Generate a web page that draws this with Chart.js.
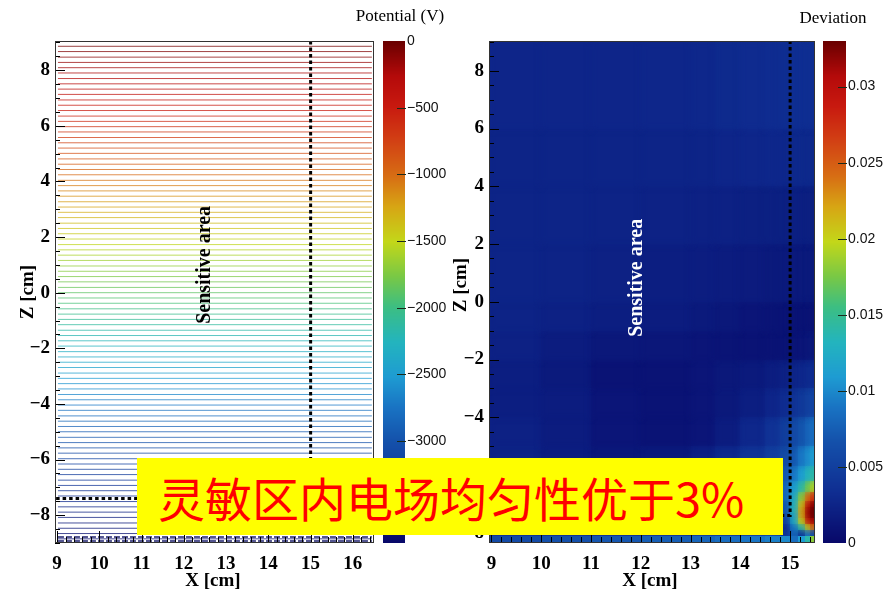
<!DOCTYPE html>
<html>
<head>
<meta charset="utf-8">
<script src="https://cdn.jsdelivr.net/npm/chart.js"></script>
<style>
  html, body { margin: 0; padding: 0; background: #fff; }
  #wrap { position: relative; width: 884px; height: 593px; overflow: hidden; }
  #wrap canvas { position: absolute; left: 0; top: 0; }
  #banner {
    position: absolute; left: 137px; top: 458px; width: 646px; height: 77px;
    box-sizing: border-box; padding-left: 21px;
    background: #ffff00; color: #ff0000;
    font-family: "Noto Sans CJK SC", sans-serif; font-size: 47px; line-height: 77px;
    white-space: nowrap;
  }
</style>
</head>
<body>
<div id="wrap">
  <canvas id="potentialChart" width="884" height="593"></canvas>
  <canvas id="potentialBar" width="884" height="593"></canvas>
  <canvas id="deviationChart" width="884" height="593"></canvas>
  <canvas id="deviationBar" width="884" height="593"></canvas>
  <div id="banner">灵敏区内电场均匀性优于3%</div>
</div>
<script>
// tick labels
const xTicksLeft = [9, 10, 11, 12, 13, 14, 15, 16];
const xTicksRight = [9, 10, 11, 12, 13, 14, 15];
const zTicks = [-8, -6, -4, -2, 0, 2, 4, 6, 8];
const potentialTicks = [0, -500, -1000, -1500, -2000, -2500, -3000];
const deviationTicks = [0, 0.005, 0.01, 0.015, 0.02, 0.025, 0.03];

// equipotential lines (V) and their height (cm)
const contourLevels = [
  -40, -80, -120, -160, -200, -240, -280, -320, -360, -400,
  -440, -480, -520, -560, -600, -640, -680, -720, -760, -800,
  -840, -880, -920, -960, -1000, -1040, -1080, -1120, -1160, -1200,
  -1240, -1280, -1320, -1360, -1400, -1440, -1480, -1520, -1560, -1600,
  -1640, -1680, -1720, -1760, -1800, -1840, -1880, -1920, -1960, -2000,
  -2040, -2080, -2120, -2160, -2200, -2240, -2280, -2320, -2360, -2400,
  -2440, -2480, -2520, -2560, -2600, -2640, -2680, -2720, -2760, -2800,
  -2840, -2880, -2920, -2960, -3000, -3040, -3080, -3120, -3160, -3200,
  -3240, -3280, -3320, -3360, -3400, -3440, -3480, -3520, -3560, -3600,
  -3640, -3680, -3720
];
const contourZ = [
  8.86, 8.67, 8.47, 8.28, 8.09, 7.90, 7.70, 7.51, 7.32, 7.13,
  6.93, 6.74, 6.55, 6.35, 6.16, 5.97, 5.78, 5.58, 5.39, 5.20,
  5.01, 4.81, 4.62, 4.43, 4.24, 4.04, 3.85, 3.66, 3.47, 3.27,
  3.08, 2.89, 2.70, 2.50, 2.31, 2.12, 1.93, 1.73, 1.54, 1.35,
  1.16, 0.96, 0.77, 0.58, 0.39, 0.19, 0.00, -0.19, -0.38, -0.58,
  -0.77, -0.96, -1.15, -1.35, -1.54, -1.73, -1.92, -2.12, -2.31, -2.50,
  -2.69, -2.89, -3.08, -3.27, -3.46, -3.66, -3.85, -4.04, -4.23, -4.43,
  -4.62, -4.81, -5.00, -5.20, -5.39, -5.58, -5.77, -5.97, -6.16, -6.35,
  -6.54, -6.74, -6.93, -7.12, -7.31, -7.51, -7.70, -7.89, -8.08, -8.28,
  -8.47, -8.66, -8.85
];
const contourX = [9.02, 16.45];
// strip electrodes at the bottom
const stripZ = [-8.78, -8.93];

// sensitive area boundary (dashed)
const boundaryX = [15, 15, 8.95];
const boundaryZ = [9.05, -7.4, -7.4];

// deviation map: cell edges and values (rows from bottom to top)
const devX = [8.95, 10, 11, 12, 13, 13.5, 14, 14.5, 14.8, 15.0, 15.15, 15.3, 15.4, 15.5];
const devZ = [-8.35, -8.1, -7.9, -7.7, -7.5, -7.3, -7.1, -6.9, -6.6, -6.2, -5.7, -5, -4, -3, -2, -1, 0, 2, 4, 6, 8.98];
const deviation = [
  [0.006, 0.0065, 0.007, 0.0075, 0.008, 0.0085, 0.009, 0.0095, 0.01, 0.0085, 0.011, 0.014, 0.018],
  [0.004, 0.004, 0.004, 0.0045, 0.005, 0.005, 0.0055, 0.006, 0.004, 0.008, 0.004, 0.009, 0.006],
  [0.003, 0.003, 0.003, 0.0035, 0.004, 0.004, 0.0045, 0.005, 0.003, 0.009, 0.014, 0.02, 0.024],
  [0.003, 0.003, 0.003, 0.0035, 0.004, 0.0045, 0.005, 0.006, 0.005, 0.012, 0.02, 0.028, 0.031],
  [0.003, 0.003, 0.003, 0.0035, 0.004, 0.0045, 0.005, 0.006, 0.006, 0.012, 0.022, 0.031, 0.033],
  [0.003, 0.0028, 0.0026, 0.003, 0.0035, 0.004, 0.005, 0.006, 0.007, 0.013, 0.022, 0.031, 0.033],
  [0.003, 0.0026, 0.0024, 0.0028, 0.0033, 0.004, 0.005, 0.006, 0.007, 0.013, 0.021, 0.029, 0.032],
  [0.0028, 0.0024, 0.0022, 0.0026, 0.003, 0.0038, 0.0048, 0.006, 0.008, 0.012, 0.018, 0.024, 0.027],
  [0.0026, 0.0022, 0.002, 0.0024, 0.003, 0.0036, 0.0046, 0.0058, 0.008, 0.011, 0.014, 0.017, 0.019],
  [0.0025, 0.002, 0.0016, 0.002, 0.0026, 0.0034, 0.0044, 0.0056, 0.007, 0.009, 0.011, 0.013, 0.014],
  [0.0024, 0.0019, 0.0014, 0.0016, 0.0022, 0.003, 0.004, 0.005, 0.006, 0.007, 0.009, 0.010, 0.011],
  [0.0022, 0.0018, 0.0012, 0.001, 0.0012, 0.0018, 0.0028, 0.0038, 0.0048, 0.0058, 0.0068, 0.0078, 0.0085],
  [0.002, 0.0018, 0.0012, 0.001, 0.0012, 0.0015, 0.002, 0.0026, 0.0032, 0.0038, 0.0044, 0.005, 0.0055],
  [0.002, 0.0016, 0.001, 0.001, 0.0012, 0.0014, 0.0016, 0.0019, 0.0022, 0.0025, 0.0028, 0.003, 0.0032],
  [0.0022, 0.0018, 0.0014, 0.0013, 0.0012, 0.0011, 0.001, 0.001, 0.001, 0.0011, 0.0012, 0.0013, 0.0014],
  [0.0024, 0.0022, 0.002, 0.0018, 0.0016, 0.0014, 0.0012, 0.0011, 0.001, 0.001, 0.001, 0.001, 0.001],
  [0.0025, 0.0024, 0.0022, 0.002, 0.0019, 0.0018, 0.0017, 0.0016, 0.0016, 0.0016, 0.0016, 0.0016, 0.0016],
  [0.0025, 0.0025, 0.0024, 0.0023, 0.0022, 0.0022, 0.0021, 0.0021, 0.0021, 0.0021, 0.0021, 0.0021, 0.0021],
  [0.0025, 0.0025, 0.0025, 0.0025, 0.0025, 0.0026, 0.0027, 0.0028, 0.0028, 0.0029, 0.0029, 0.0029, 0.0029],
  [0.0026, 0.0026, 0.0026, 0.0027, 0.0028, 0.003, 0.0031, 0.0032, 0.0033, 0.0034, 0.0034, 0.0034, 0.0034]
];

const potentialMin = -3765, potentialMax = 0;
const devMin = 0, devMax = 0.033;

// rainbow palette like the ROOT colour bar
const cmapStops = [0, 0.1, 0.2, 0.27, 0.33, 0.4, 0.47, 0.53, 0.6, 0.67, 0.73, 0.8, 0.87, 0.93, 1];
const cmapColors = [
  [8, 8, 105], [15, 45, 145], [20, 80, 170], [25, 115, 195], [30, 155, 210],
  [35, 180, 190], [60, 190, 130], [120, 200, 70], [195, 215, 25], [215, 165, 20],
  [215, 110, 20], [210, 65, 20], [200, 25, 15], [180, 10, 10], [105, 0, 0]
];

function colorAt(frac, alpha) {
  frac = Math.min(1, Math.max(0, frac));
  let rgb = cmapColors[cmapColors.length - 1];
  for (let i = 1; i < cmapStops.length; i++) {
    if (frac <= cmapStops[i]) {
      const t = (frac - cmapStops[i - 1]) / (cmapStops[i] - cmapStops[i - 1]);
      const a = cmapColors[i - 1], b = cmapColors[i];
      rgb = a.map((c, k) => Math.round(c + (b[k] - c) * t));
      break;
    }
  }
  return 'rgba(' + rgb.join(',') + ',' + (alpha === undefined ? 1 : alpha) + ')';
}

const serif = '"Liberation Serif", "Times New Roman", serif';
const tickFont = { family: serif, size: 19, weight: 'bold' };
const fmtMinus = v => (v < 0 ? '\u2212' + Math.abs(v) : String(v));

// inward ROOT-style ticks, frame and text labels
function decorPlugin(cfg) {
  return {
    id: 'decor',
    afterDatasetsDraw(chart) {
      const { ctx, chartArea: a, scales: { x, y } } = chart;
      ctx.save();
      ctx.strokeStyle = '#000';
      ctx.lineWidth = 1;
      ctx.beginPath();
      for (let k = Math.ceil(y.min / 0.5); k * 0.5 <= y.max; k++) {
        const v = k * 0.5;
        const py = Math.round(y.getPixelForValue(v)) + 0.5;
        const len = zTicks.includes(v) ? 10 : 5;
        ctx.moveTo(a.left, py); ctx.lineTo(a.left + len, py);
      }
      for (let k = Math.ceil(x.min / 0.2); k * 0.2 <= x.max + 1e-9; k++) {
        const v = Math.round(k * 2) / 10;
        const px = Math.round(x.getPixelForValue(v)) + 0.5;
        const len = Number.isInteger(v) ? 12 : 6;
        ctx.moveTo(px, a.bottom); ctx.lineTo(px, a.bottom - len);
      }
      ctx.stroke();
      ctx.strokeStyle = '#333';
      ctx.strokeRect(a.left + 0.5, a.top + 0.5, a.right - a.left - 1, a.bottom - a.top - 1);

      // sensitive area label
      ctx.font = 'bold 20px ' + serif;
      ctx.fillStyle = cfg.labelColor;
      ctx.textAlign = 'center';
      ctx.textBaseline = 'middle';
      ctx.translate(x.getPixelForValue(cfg.labelX), y.getPixelForValue(cfg.labelZ));
      ctx.rotate(-Math.PI / 2);
      ctx.fillText('Sensitive area', 0, 0);
      ctx.restore();

      // axis titles
      ctx.save();
      ctx.font = 'bold 19px ' + serif;
      ctx.fillStyle = '#000';
      ctx.textAlign = 'center';
      ctx.textBaseline = 'middle';
      ctx.fillText('X [cm]', cfg.xTitle[0], cfg.xTitle[1]);
      ctx.translate(cfg.zTitle[0], cfg.zTitle[1]);
      ctx.rotate(-Math.PI / 2);
      ctx.fillText('Z [cm]', 0, 0);
      ctx.restore();
    }
  };
}

function drawCells(chart, r0, r1) {
  const { ctx, scales: { x, y } } = chart;
  for (let r = r0; r < r1; r++) {
    const top = Math.round(y.getPixelForValue(devZ[r + 1]));
    const bot = Math.round(y.getPixelForValue(devZ[r]));
    for (let c = 0; c < devX.length - 1; c++) {
      const left = Math.round(x.getPixelForValue(devX[c]));
      const right = Math.round(x.getPixelForValue(devX[c + 1]));
      ctx.fillStyle = colorAt((deviation[r][c] - devMin) / (devMax - devMin));
      ctx.fillRect(left, top, right - left, bot - top);
    }
  }
}

// cells are drawn sharp, then once more softened so the map looks like the smooth original
const heatmapPlugin = {
  id: 'heatmap',
  beforeDatasetsDraw(chart) {
    const { ctx, chartArea: a } = chart;
    const rows = devZ.length - 1;
    ctx.save();
    ctx.beginPath();
    ctx.rect(a.left, a.top, a.right - a.left, a.bottom - a.top);
    ctx.clip();
    drawCells(chart, 0, rows);
    ctx.filter = 'blur(3px)';
    drawCells(chart, 1, rows);
    ctx.filter = 'none';
    drawCells(chart, 0, 1);
    ctx.restore();
  }
};

function colorBarPlugin(title, titlePos) {
  return {
    id: 'colorBar',
    beforeDatasetsDraw(chart) {
      const { ctx, chartArea: a, scales: { y } } = chart;
      ctx.save();
      for (let py = Math.floor(a.top); py < a.bottom; py++) {
        const v = y.getValueForPixel(py + 0.5);
        ctx.fillStyle = colorAt((v - y.min) / (y.max - y.min));
        ctx.fillRect(a.left, py, a.right - a.left, 1);
      }
      ctx.strokeStyle = '#1a2a1a';
      ctx.beginPath();
      y.ticks.forEach(t => {
        const py = Math.round(y.getPixelForValue(t.value)) + 0.5;
        if (py > a.top + 2 && py < a.bottom - 2) {
          ctx.moveTo(a.right - 8, py); ctx.lineTo(a.right + 1, py);
        }
      });
      ctx.stroke();
      ctx.font = '17px ' + serif;
      ctx.fillStyle = '#000';
      ctx.textAlign = 'center';
      ctx.textBaseline = 'middle';
      ctx.fillText(title, titlePos[0], titlePos[1]);
      ctx.restore();
    }
  };
}

function mainChart(id, o) {
  return new Chart(document.getElementById(id), {
    type: 'scatter',
    data: { datasets: o.datasets },
    options: {
      responsive: false, animation: false, devicePixelRatio: 1,
      layout: { padding: o.padding },
      plugins: { legend: { display: false }, tooltip: { enabled: false } },
      scales: {
        x: {
          type: 'linear', min: o.xMin, max: o.xMax,
          afterBuildTicks: s => { s.ticks = o.xTicks.map(v => ({ value: v })); },
          afterFit: s => { s.height = 50; },
          grid: { display: false, drawTicks: false }, border: { display: false },
          ticks: { font: tickFont, color: '#000', padding: 10, autoSkip: false, maxRotation: 0, callback: fmtMinus }
        },
        y: {
          type: 'linear', min: o.zMin, max: o.zMax,
          afterBuildTicks: s => { s.ticks = zTicks.map(v => ({ value: v })); },
          afterFit: s => { s.width = o.yWidth; },
          grid: { display: false, drawTicks: false }, border: { display: false },
          ticks: { font: tickFont, color: '#000', padding: 5, autoSkip: false, callback: fmtMinus }
        }
      }
    },
    plugins: o.plugins
  });
}

function barChart(id, o) {
  return new Chart(document.getElementById(id), {
    type: 'scatter',
    data: { datasets: [] },
    options: {
      responsive: false, animation: false, devicePixelRatio: 1,
      layout: { padding: o.padding },
      plugins: { legend: { display: false }, tooltip: { enabled: false } },
      scales: {
        x: { display: false, min: 0, max: 1 },
        y: {
          position: 'right', min: o.min, max: o.max,
          afterBuildTicks: s => { s.ticks = o.ticks.map(v => ({ value: v })); },
          afterFit: s => { s.width = o.axisWidth; },
          grid: { display: false, drawTicks: false }, border: { display: false },
          ticks: { font: { family: '"Liberation Sans", Arial, sans-serif', size: 14 }, color: '#111', padding: 2, autoSkip: false, callback: fmtMinus }
        }
      }
    },
    plugins: [colorBarPlugin(o.title, o.titlePos)]
  });
}

const boundaryData = boundaryX.map((x, i) => ({ x: x, y: boundaryZ[i] }));
const boundarySet = {
  data: boundaryData, showLine: true, pointRadius: 0,
  borderColor: '#000', borderWidth: 3, borderDash: [3.5, 3]
};

// left: equipotential lines
const potentialSets = [boundarySet];
contourLevels.forEach((v, i) => {
  potentialSets.push({
    data: contourX.map(x => ({ x: x, y: contourZ[i] })),
    showLine: true, pointRadius: 0, borderWidth: 1,
    borderColor: colorAt((v - potentialMin) / (potentialMax - potentialMin), 0.75)
  });
});
stripZ.forEach(z => {
  potentialSets.push({
    data: contourX.map(x => ({ x: x, y: z })),
    showLine: true, pointRadius: 0, borderWidth: 1.5,
    borderColor: '#1c1f6e', borderDash: [6, 2]
  });
});

mainChart('potentialChart', {
  datasets: potentialSets,
  padding: { left: 0, top: 41, right: 510, bottom: 0 },
  xMin: 8.95, xMax: 16.5, zMin: -9, zMax: 9.05, yWidth: 55,
  xTicks: xTicksLeft,
  plugins: [decorPlugin({ labelColor: '#000', labelX: 12.5, labelZ: 1.0, xTitle: [213, 581], zTitle: [28, 292] })]
});

barChart('potentialBar', {
  padding: { left: 383, top: 41, right: 429, bottom: 50 },
  min: potentialMin, max: potentialMax, ticks: potentialTicks, axisWidth: 50,
  title: 'Potential (V)', titlePos: [400, 17]
});

// right: relative deviation of the field
mainChart('deviationChart', {
  datasets: [Object.assign({}, boundarySet, { data: boundaryData })],
  padding: { left: 439, top: 41, right: 69, bottom: 0 },
  xMin: 8.95, xMax: 15.5, zMin: -8.35, zMax: 9.03, yWidth: 50,
  xTicks: xTicksRight,
  plugins: [heatmapPlugin, decorPlugin({ labelColor: '#fff', labelX: 11.92, labelZ: 0.83, xTitle: [650, 581], zTitle: [461, 285] })]
});

barChart('deviationBar', {
  padding: { left: 823, top: 41, right: 0, bottom: 50 },
  min: devMin, max: devMax, ticks: deviationTicks, axisWidth: 38,
  title: 'Deviation', titlePos: [833, 19]
});
</script>
</body>
</html>
